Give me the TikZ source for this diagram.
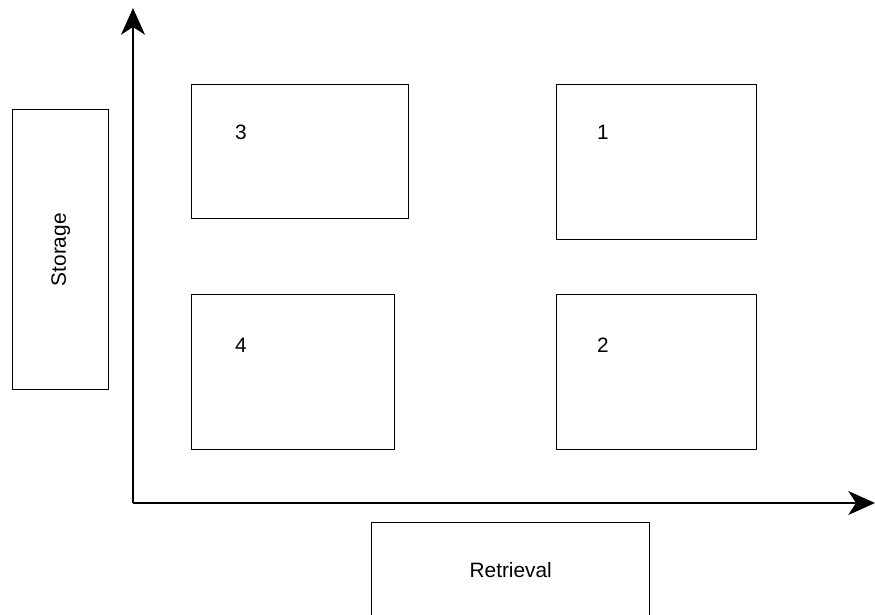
\documentclass[tikz,border=0pt]{standalone}
\usepackage{fontspec}
\setmainfont{Liberation Sans}
\usetikzlibrary{arrows.meta,positioning}

\begin{document}
\begin{tikzpicture}[
    x=0.025cm, y=-0.025cm,
    cell/.style={rectangle, draw=black, line width=1pt, inner sep=0pt,
        anchor=north west},
    tag/.style={font=\fontsize{14.8}{17}\selectfont, inner sep=0pt},
    axis/.style={-{Stealth[length=19pt, width=17pt, inset=5.5pt]}, line width=1.4pt}
]
    \useasboundingbox (0,0) rectangle (875,614);

    % side labels
    \node[cell, minimum width=2.4cm, minimum height=7cm] (storage) at (12,109) {};
    \node[tag, rotate=90] at (storage.center) {Storage};
    \node[cell, minimum width=6.95cm, minimum height=2.35cm] (retrieval) at (371,522) {};
    \node[tag] at (retrieval.center) {Retrieval};

    % axes
    \coordinate (origin) at (133,503);
    \coordinate (ytop) at (133,8);
    \coordinate (xend) at (875,503);
    \draw[axis] (origin) -- (ytop);
    \draw[axis] (origin) -- (xend);

    % quadrants
    \node[cell, minimum width=5.425cm, minimum height=3.35cm] (q3) at (191,84) {};
    \node[cell, minimum width=5cm, minimum height=3.875cm] (q1) at (556,84) {};
    \node[cell, minimum width=5.075cm, minimum height=3.875cm] (q4) at (191,294) {};
    \node[cell, minimum width=5cm, minimum height=3.875cm] (q2) at (556,294) {};

    \node[tag] (n3) at (241,132) {3};
    \node[tag] (n1) at (603,132) {1};
    \node[tag] (n4) at (241,345) {4};
    \node[tag] (n2) at (603,345) {2};
\end{tikzpicture}
\end{document}
